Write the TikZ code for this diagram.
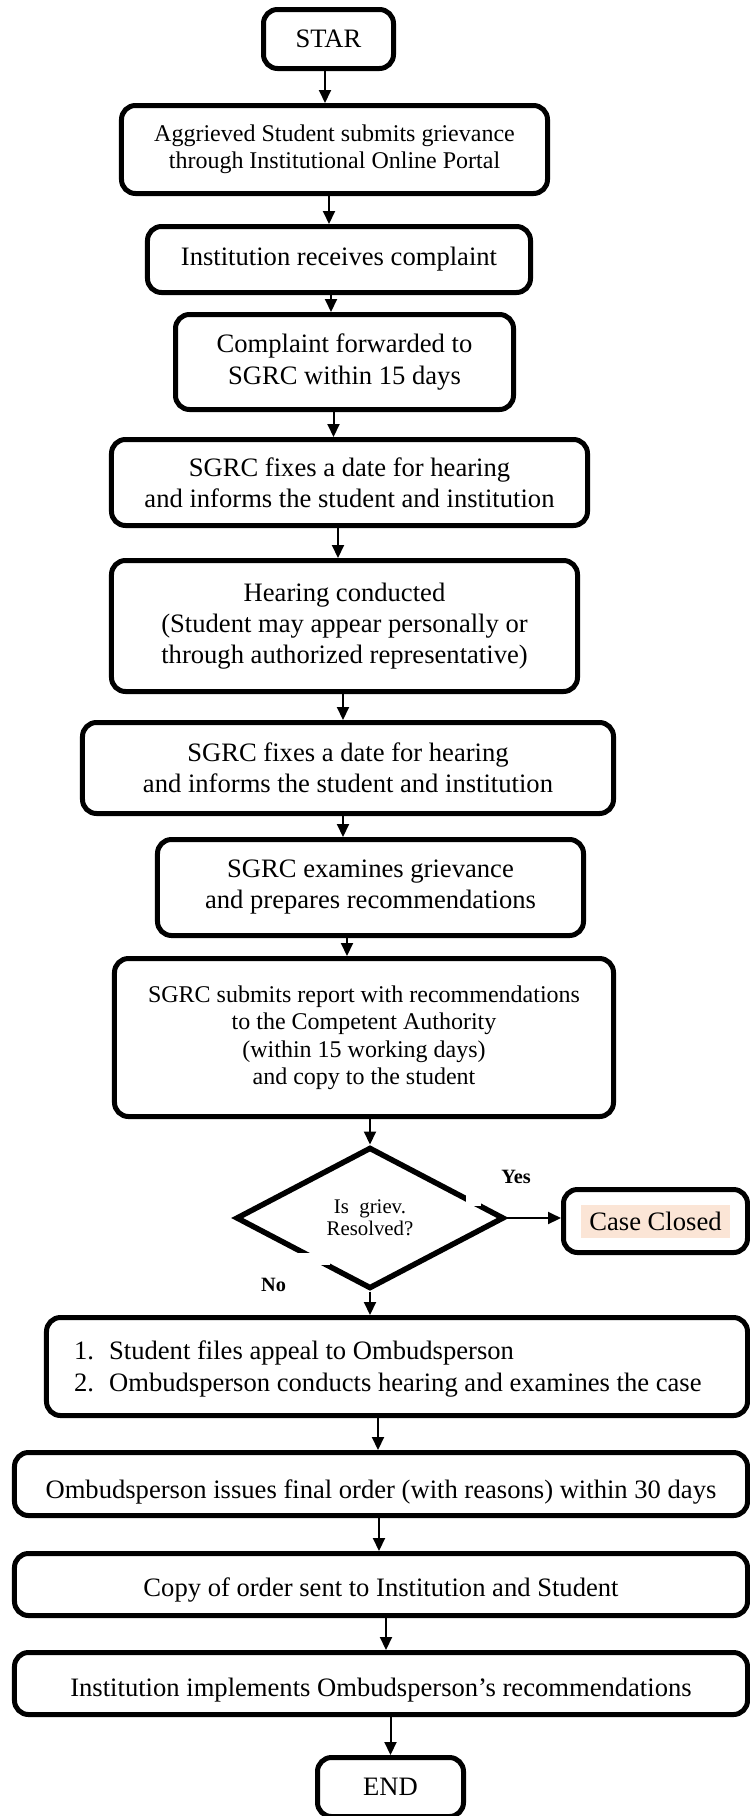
\documentclass[tikz,border=0pt]{standalone}
\usepackage{fontspec}
\setmainfont{Liberation Serif}
\usetikzlibrary{arrows.meta,shapes.geometric}
\definecolor{peach}{HTML}{FBE5D6}
\newcommand{\fmain}{\fontsize{26.6bp}{31bp}\selectfont}
\newcommand{\fsmall}{\fontsize{24bp}{27.5bp}\selectfont}
\newcommand{\fdia}{\fontsize{20.8bp}{22bp}\selectfont}
\newcommand{\flab}{\fontsize{20.3bp}{22bp}\selectfont\bfseries}
\begin{document}
\begin{tikzpicture}[x=1bp,y=-1bp,
  box/.style={draw, line width=5bp, rounded corners=14bp, inner sep=0pt, align=center, font=\fmain},
  arr/.style={line width=2bp, -{Triangle[length=13bp,width=12bp]}},
  lab/.style={inner sep=0pt, font=\flab}]
\useasboundingbox (0,0) rectangle (750,1816);
\fill[white] (0,0) rectangle (750,1816);

\node[box, minimum width=130bp, minimum height=59bp] (star) at (328.5,39) {STAR};
\node[box, font=\fsmall, minimum width=426bp, minimum height=88bp] (b2) at (334.5,149.5) {Aggrieved Student submits grievance\\through Institutional Online Portal};
\node[box, minimum width=383bp, minimum height=66bp] (b3) at (339,259.5) {Institution receives complaint};
\node[box, minimum width=338bp, minimum height=95bp] (b4) at (344.5,362) {Complaint forwarded to\\SGRC within 15 days};
\node[box, minimum width=476bp, minimum height=86bp] (b5) at (349.5,482.5) {SGRC fixes a date for hearing\\and informs the student and institution};
\node[box, minimum width=466bp, minimum height=131bp] (b6) at (344.5,626) {Hearing conducted\\(Student may appear personally or\\through authorized representative)};
\node[box, minimum width=531bp, minimum height=91bp] (b7) at (348,768) {SGRC fixes a date for hearing\\and informs the student and institution};
\node[box, minimum width=426bp, minimum height=96bp] (b8) at (370.5,887.5) {SGRC examines grievance\\and prepares recommendations};
\node[box, font=\fsmall, minimum width=499bp, minimum height=158bp] (b9) at (364,1037.5) {SGRC submits report with recommendations\\to the Competent Authority\\(within 15 working days)\\and copy to the student};

\node[draw, diamond, aspect=1.9, line width=5.5bp, minimum width=268bp, minimum height=141.5bp, inner sep=0pt, align=center, font=\fdia] (dec) at (370,1218) {Is\ \ griev.\\Resolved?};
\fill[white] (466,1185) rectangle (481,1205.5);
\fill[white] (280,1253) rectangle (330,1265);

\node[box, minimum width=184bp, minimum height=63bp] (cc) at (655.5,1221) {};
\node[fill=peach, inner xsep=8.5bp, inner ysep=0pt, minimum height=33bp, font=\fmain] (cct) at (cc) {Case Closed};

\node[box, minimum width=701bp, minimum height=98bp] (b10) at (397,1366.5) {};
\node[anchor=west, inner sep=0pt, align=left] (b10t) at (74,1369) {\fontsize{26.6bp}{32bp}\selectfont\begin{tabular}{@{}l@{\hspace{15bp}}l@{}}1.&Student files appeal to Ombudsperson\\2.&Ombudsperson conducts hearing and examines the case\end{tabular}};

\node[box, minimum width=733bp, minimum height=63bp, text height=34bp, text depth=6bp] (b11) at (381,1484) {Ombudsperson issues final order (with reasons) within 30 days};
\node[box, minimum width=733bp, minimum height=62bp, text height=30bp, text depth=6bp] (b12) at (381,1584.5) {Copy of order sent to Institution and Student};
\node[box, minimum width=733bp, minimum height=62bp, text height=32bp, text depth=6bp] (b13) at (381,1683.5) {Institution implements Ombudsperson’s recommendations};
\node[box, minimum width=146bp, minimum height=59bp] (end) at (390.5,1787) {END};

\node[lab] (yes) at (516,1177) {Yes};
\node[lab] (no) at (273.5,1285) {No};

\coordinate (x1) at (325,0);
\coordinate (x2) at (329,0);
\coordinate (x3) at (331,0);
\coordinate (x4) at (333.5,0);
\coordinate (x5) at (338,0);
\coordinate (x6) at (343,0);
\coordinate (x7) at (343,0);
\coordinate (x8) at (347,0);
\coordinate (x10) at (378,0);
\coordinate (x11) at (379,0);
\coordinate (x12) at (386,0);

\draw[arr] (x1 |- star.south) -- (x1 |- b2.north);
\draw[arr] (x2 |- b2.south) -- (x2 |- b3.north);
\draw[arr] (x3 |- b3.south) -- (x3 |- b4.north);
\draw[arr] (x4 |- b4.south) -- (x4 |- b5.north);
\draw[arr] (x5 |- b5.south) -- (x5 |- b6.north);
\draw[arr] (x6 |- b6.south) -- (x6 |- b7.north);
\draw[arr] (x7 |- b7.south) -- (x7 |- b8.north);
\draw[arr] (x8 |- b8.south) -- (x8 |- b9.north);
\draw[arr] (dec.north |- b9.south) -- (dec.north);
\draw[arr] (dec.east) -- (dec.east -| cc.west);
\draw[arr] (dec.south) -- (dec.south |- b10.north);
\draw[arr] (x10 |- b10.south) -- (x10 |- b11.north);
\draw[arr] (x11 |- b11.south) -- (x11 |- b12.north);
\draw[arr] (x12 |- b12.south) -- (x12 |- b13.north);
\draw[arr] (end.north |- b13.south) -- (end.north);
\end{tikzpicture}
\end{document}
